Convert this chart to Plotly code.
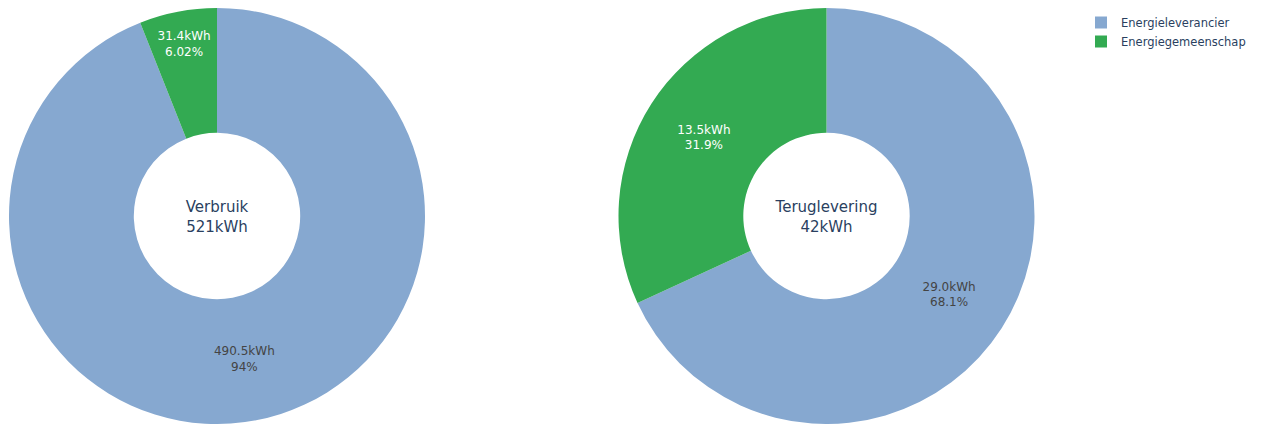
import plotly.graph_objects as go

labels = ["Energieleverancier", "Energiegemeenschap"]
verbruik = [490.5, 31.4]
teruglevering = [28.96, 13.54]
center_titles = ["Verbruik<br>521kWh", "Teruglevering<br>42kWh"]
colors = ["#86a8d0", "#33aa52"]

W, H = 1255, 416
FONT = "Verdana, DejaVu Sans, sans-serif"

fig = go.Figure()
common = dict(
    labels=labels,
    hole=0.4,
    sort=False,
    direction="clockwise",
    marker=dict(colors=colors),
    texttemplate="%{value:.1f}kWh<br>%{percent}",
    textposition="inside",
    textfont=dict(size=12, family=FONT),
    insidetextorientation="horizontal",
)
fig.add_trace(go.Pie(values=verbruik, domain=dict(x=[1 / W, 417 / W], y=[0, 1]),
                     title=dict(text=center_titles[0], position="middle center",
                                font=dict(size=15, family=FONT, color="#2a3f5f")),
                     **common))
fig.add_trace(go.Pie(values=teruglevering, domain=dict(x=[610 / W, 1027 / W], y=[0, 1]),
                     title=dict(text=center_titles[1], position="middle center",
                                font=dict(size=15, family=FONT, color="#2a3f5f")),
                     **common))

fig.update_layout(
    width=W, height=H,
    margin=dict(l=0, r=0, t=0, b=0, autoexpand=False),
    paper_bgcolor="white",
    plot_bgcolor="white",
    font=dict(family=FONT, size=12, color="#2a3f5f"),
    legend=dict(x=(W - 12) / W, xanchor="right", y=1, yanchor="top", font=dict(size=11.5)),
)
fig.write_html("out.html")
